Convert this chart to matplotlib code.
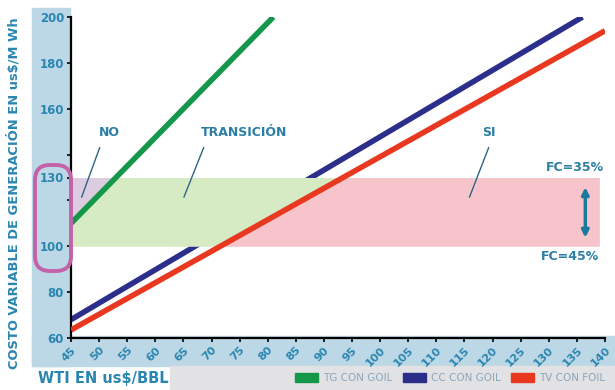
import matplotlib.pyplot as plt
import numpy as np
from matplotlib.patches import Rectangle, FancyBboxPatch, Patch
from matplotlib.transforms import IdentityTransform

# costo variable vs precio WTI
x_tg = [45, 81]
tg = [110, 200]
x_cc = [45, 136]
cc = [68, 200]
x_tv = [45, 140]
tv = [63.5, 194]

band_lo, band_hi = 100, 130
band_end = 139

xticks = list(range(45, 145, 5))
yticks = [60, 80, 100, 120, 130, 140, 160, 180, 200]
ylabels = ['60', '80', '100', '', '130', '', '160', '180', '200']

teal = '#2a86b0'
panel = '#bcd7e5'
W, H = 615, 390


def px(x, y):
    return x / W, 1 - y / H


fig = plt.figure(figsize=(6.15, 3.9), dpi=100)

# fondo azul detras de los ejes
for (x0, y0, x1, y1) in [(32, 8, 70, 366), (32, 336, 615, 366)]:
    fx, fy = px(x0, y1)
    fig.add_artist(Rectangle((fx, fy), (x1 - x0) / W, (y1 - y0) / H,
                             transform=fig.transFigure, color=panel, zorder=-2))
fx, fy = px(170, 390)
fig.add_artist(Rectangle((fx, fy), (615 - 170) / W, 24 / H,
                         transform=fig.transFigure, color='#e2e2e4', zorder=-2))

l, b = px(71, 338)
r, t = px(605, 17)
ax = fig.add_axes([l, b, r - l, t - b])
ax.set_facecolor('none')
ax.set_xlim(45, 140)
ax.set_ylim(60, 200)

# zonas NO / TRANSICION / SI
yy = np.linspace(band_lo, band_hi, 50)
x_green = np.interp(yy, tg, x_tg)
x_red = np.interp(yy, tv, x_tv)
ax.fill_betweenx(yy, 45, x_green, color='#dcccdf', lw=0, zorder=2)
ax.fill_betweenx(yy, x_green, x_red, color='#d6ebc3', lw=0, zorder=2)
ax.fill_betweenx(yy, x_red, band_end, color='#f8c4cb', lw=0, zorder=2)

ax.plot(x_cc, cc, color='#2c2e8c', lw=4, zorder=1, solid_capstyle='butt')
ax.plot(x_tv, tv, color='#e8381f', lw=4, zorder=3, solid_capstyle='butt')
ax.plot(x_tg, tg, color='#15974a', lw=4, zorder=3, solid_capstyle='butt')

ax.set_xticks(xticks)
ax.set_xticklabels([str(v) for v in xticks], rotation=45, ha='right',
                   rotation_mode='anchor', color=teal, fontsize=8, fontweight='bold')
ax.set_yticks(yticks)
ax.set_yticklabels(ylabels, color=teal, fontsize=8.5, fontweight='bold')
ax.tick_params(length=3, width=1.2, pad=2)
for s in ['top', 'right']:
    ax.spines[s].set_visible(False)
for s in ['left', 'bottom']:
    ax.spines[s].set_linewidth(1.6)

txt = dict(color='#2a7fa6', fontsize=9, fontweight='bold', ha='center', va='center', zorder=5)
lk = dict(color='#2b6684', lw=1, zorder=5)
ax.text(51.9, 149.5, 'NO', **txt)
ax.plot([50.1, 46.9], [143, 121.5], **lk)
ax.text(75.7, 149.5, 'TRANSICIÓN', **txt)
ax.plot([68.6, 65.1], [143, 121.5], **lk)
ax.text(119.3, 149.5, 'SI', **txt)
ax.plot([119.3, 115.9], [143, 121.5], **lk)

ax.text(134.6, 134.5, 'FC=35%', **txt)
ax.text(133.8, 95.5, 'FC=45%', **txt)
ax.annotate('', xy=(136.5, 102.5), xytext=(136.5, 127),
            arrowprops=dict(arrowstyle='<|-|>', color='#1b7b9c', lw=2.5,
                            mutation_scale=10), zorder=5)

# recuadro sobre la zona 100-130 del eje (en pixeles)
fig.add_artist(FancyBboxPatch((35, H - 271), 36, 106,
                              boxstyle='round,pad=0,rounding_size=15',
                              transform=IdentityTransform(), fc='none',
                              ec='#c462a9', lw=2.8, zorder=3))

fig.text(0.022, 0.505, 'COSTO VARIABLE DE GENERACIÓN EN us$/M Wh', rotation=90,
         ha='center', va='center', color=teal, fontsize=9.4, fontweight='bold')
fig.text(38 / W, 1 - 378 / H, 'WTI EN us$/BBL', ha='left', va='center',
         color=teal, fontsize=10.5, fontweight='bold')

handles = [Patch(color='#15974a', label='TG CON GOIL'),
           Patch(color='#2c2e8c', label='CC CON GOIL'),
           Patch(color='#e8381f', label='TV CON FOIL')]
fig.legend(handles=handles, ncol=3, frameon=False, loc='center right',
           bbox_to_anchor=(1.0, 1 - 378 / H), fontsize=7.5, labelcolor='#8aa6bd',
           handlelength=2.2, handleheight=0.9, columnspacing=1.0, handletextpad=0.5)

fig.savefig('out.png', dpi=100)
